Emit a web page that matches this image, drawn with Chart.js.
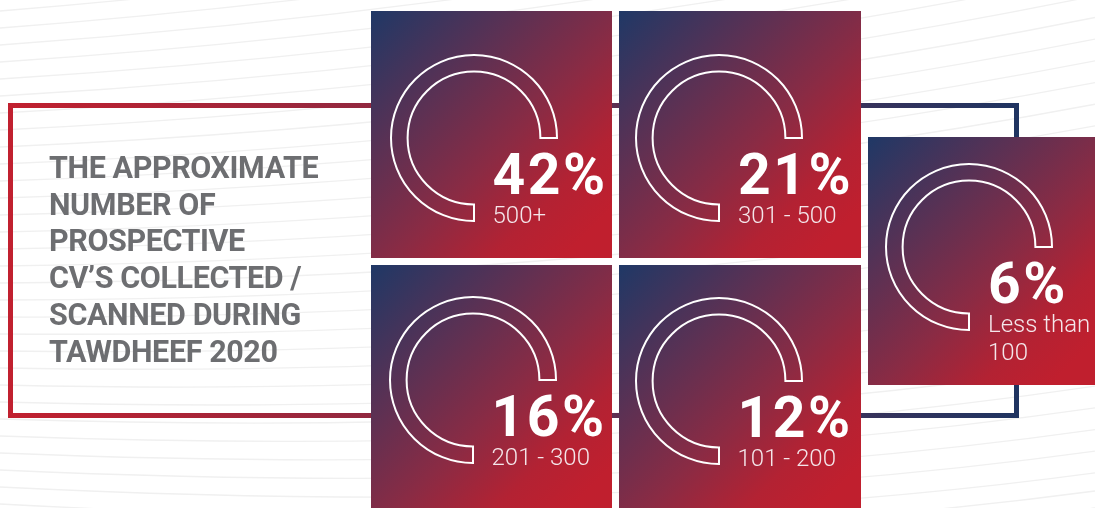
<!DOCTYPE html>
<html>
<head>
<meta charset="utf-8">
<script src="https://cdn.jsdelivr.net/npm/chart.js@4.4.1/dist/chart.umd.min.js"></script>
<style>
  html, body { margin: 0; padding: 0; background: #ffffff; }
  body { width: 1095px; height: 508px; position: relative; overflow: hidden; font-family: Roboto, "Noto Sans", sans-serif; }
  #bg { position: absolute; left: 0; top: 0; }
  .tile { position: absolute; background: linear-gradient(135deg, #1f3866 0%, #5a3154 30%, #8a2b44 55%, #b32233 75%, #c01f2e 90%); }
  .ring { position: absolute; }
  #txt { position: absolute; left: 0; top: 0; pointer-events: none; }
</style>
</head>
<body>
<canvas id="bg" width="1095" height="508"></canvas>
<div id="tiles"></div>
<svg id="txt" width="1095" height="508" xmlns="http://www.w3.org/2000/svg"></svg>
<script>
(function () {
  'use strict';

  // values
  var bandLabels = ['500+', '301 - 500', 'Less than 100', '201 - 300', '101 - 200'];
  var sharePct   = [42, 21, 6, 16, 12];
  // the ring is the same three-quarter band in every tile
  var ringShare  = [75, 75, 75, 75, 75];
  var titleLines = ['THE APPROXIMATE', 'NUMBER OF', 'PROSPECTIVE', 'CV\u2019S COLLECTED /', 'SCANNED DURING', 'TAWDHEEF 2020'];

  // layout: tile boxes and ring centres (px)
  var TILES = [
    { x: 371, y: 11,  w: 241, h: 247, cx: 473.5, cy: 137.5 },
    { x: 619, y: 11,  w: 242, h: 247, cx: 719,   cy: 137.5 },
    { x: 868, y: 137, w: 230, h: 248, cx: 969,   cy: 247 },
    { x: 371, y: 265, w: 241, h: 250, cx: 472.5, cy: 380 },
    { x: 619, y: 265, w: 242, h: 250, cx: 718.5, cy: 381 }
  ];
  var RING = 168;
  var SVGNS = 'http://www.w3.org/2000/svg';

  function drawBackground() {
    var ctx = document.getElementById('bg').getContext('2d');
    // faint contour lines
    ctx.strokeStyle = '#f0f0f0';
    ctx.lineWidth = 1.3;
    for (var y0 = -40; y0 < 620; y0 += 17) {
      var t = Math.min(Math.max(y0 / 508, 0), 1);
      var d1 = -30 + 50 * t, d2 = -85 + 105 * t, d3 = -170 + 140 * t;
      ctx.beginPath();
      ctx.moveTo(0, y0);
      ctx.bezierCurveTo(360, y0 + d1, 720, y0 + d2, 1095, y0 + d3);
      ctx.stroke();
    }
    // frame behind the tiles
    var g = ctx.createLinearGradient(8, 0, 1019, 0);
    g.addColorStop(0, '#c1202f');
    g.addColorStop(0.35, '#93283f');
    g.addColorStop(0.6, '#5e2f52');
    g.addColorStop(1, '#1f3461');
    ctx.strokeStyle = g;
    ctx.lineWidth = 5;
    ctx.strokeRect(10.5, 105.5, 1006, 310);
  }

  function buildTiles() {
    var host = document.getElementById('tiles');
    TILES.forEach(function (t, i) {
      var tile = document.createElement('div');
      tile.className = 'tile';
      tile.style.cssText = 'left:' + t.x + 'px;top:' + t.y + 'px;width:' + t.w + 'px;height:' + t.h + 'px;';
      host.appendChild(tile);

      var cv = document.createElement('canvas');
      cv.className = 'ring';
      cv.width = RING; cv.height = RING;
      cv.style.left = (t.cx - t.x - RING / 2) + 'px';
      cv.style.top = (t.cy - t.y - RING / 2) + 'px';
      tile.appendChild(cv);

      new Chart(cv, {
        type: 'doughnut',
        data: {
          labels: [bandLabels[i], ''],
          datasets: [{
            data: [ringShare[i], 100 - ringShare[i]],
            backgroundColor: ['rgba(0,0,0,0)', 'rgba(0,0,0,0)'],
            borderColor: ['#ffffff', 'rgba(0,0,0,0)'],
            borderWidth: [2, 0],
            borderAlign: 'center',
            borderJoinStyle: 'miter'
          }]
        },
        options: {
          responsive: false,
          animation: false,
          events: [],
          cutout: '80%',
          rotation: 180,
          layout: { padding: 0 },
          plugins: { legend: { display: false }, tooltip: { enabled: false } }
        }
      });
    });
  }

  function addText(svg, str, x, y, style) {
    var el = document.createElementNS(SVGNS, 'text');
    el.setAttribute('x', x);
    el.setAttribute('y', y);
    Object.keys(style).forEach(function (k) { el.setAttribute(k, style[k]); });
    el.textContent = str;
    svg.appendChild(el);
    return el;
  }

  function buildText() {
    var svg = document.getElementById('txt');
    titleLines.forEach(function (line, i) {
      addText(svg, line, 49, 178 + i * 36.7, {
        'font-family': 'Roboto', 'font-weight': '700', 'font-size': '30.5',
        'letter-spacing': '-0.4', fill: '#6d6e71'
      });
    });
    TILES.forEach(function (t, i) {
      var x = t.cx + 19;
      addText(svg, sharePct[i] + '%', x, t.cy + 56, {
        'font-family': 'Roboto', 'font-weight': '700', 'font-size': '57',
        'letter-spacing': '2.5', fill: '#ffffff'
      });
      // wrap the band label to the tile width
      var words = bandLabels[i].split(' ');
      var lines = [], cur = '';
      var probe = addText(svg, '', x, -100, { 'font-family': 'Roboto', 'font-weight': '300', 'font-size': '24' });
      words.forEach(function (w) {
        var tryLine = cur ? cur + ' ' + w : w;
        probe.textContent = tryLine;
        if (cur && probe.getComputedTextLength() > 112) { lines.push(cur); cur = w; }
        else { cur = tryLine; }
      });
      lines.push(cur);
      svg.removeChild(probe);
      lines.forEach(function (ln, j) {
        addText(svg, ln, x, t.cy + 85 + j * 28, {
          'font-family': 'Roboto', 'font-weight': '300', 'font-size': '24', fill: '#f4e6ea'
        });
      });
    });
  }

  function init() {
    if (!window.Chart) { setTimeout(init, 50); return; }
    drawBackground();
    buildTiles();
    buildText();
  }

  if (document.readyState === 'loading') {
    document.addEventListener('DOMContentLoaded', init);
  } else {
    init();
  }
}());
</script>
</body>
</html>
